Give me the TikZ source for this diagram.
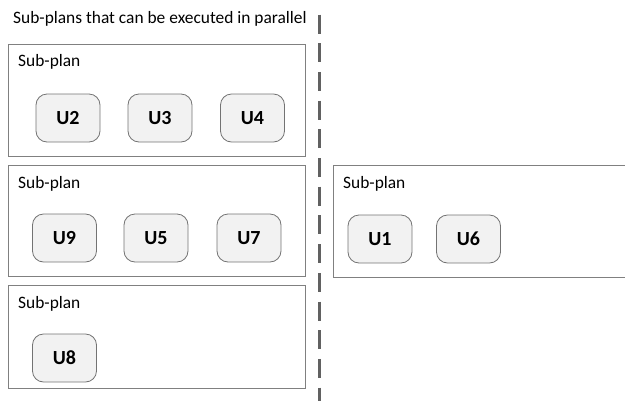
\documentclass[tikz,border=0pt]{standalone}
\usepackage{fontspec}
\setmainfont{Carlito}
\begin{document}
\begin{tikzpicture}[x=1pt,y=-1pt,
  plan/.style={draw=black!50, line width=1pt},
  unit/.style={draw=black!55, fill=black!5, rounded corners=11pt, minimum width=64pt, minimum height=48pt, font=\fontsize{20}{22}\selectfont\bfseries, inner sep=0pt, line width=0.8pt},
  lbl/.style={anchor=west, font=\fontsize{17.4}{19}\selectfont, inner sep=0pt},
  sep/.style={draw=black!62, line width=2.6pt, dash pattern=on 19pt off 9.7pt}]
\useasboundingbox (0,0) rectangle (625,400);
\node[lbl] (title) at (13,19) {Sub-plans that can be executed in parallel};
\coordinate (st) at (319.3,14.5);
\coordinate (sb) at (319.3,402);
\draw[sep] (st) -- (sb);
% box 1
\draw[plan] (8,44) rectangle (305,156);
\node[lbl] (l1) at (18,62) {Sub-plan};
\node[unit] (u2) at (68,118) {U2};
\node[unit] (u3) at (160,118) {U3};
\node[unit] (u4) at (252.5,118) {U4};
% box 2
\draw[plan] (8,165) rectangle (305,276);
\node[lbl] (l2) at (18,184) {Sub-plan};
\node[unit] (u9) at (64.5,238) {U9};
\node[unit] (u5) at (156,238) {U5};
\node[unit] (u7) at (249,238) {U7};
% box 3
\draw[plan] (8,285) rectangle (305,388);
\node[lbl] (l3) at (18,304) {Sub-plan};
\node[unit] (u8) at (64.5,358) {U8};
% box 4
\draw[plan] (333,165) -- (627,165) (627,277) -- (333,277) -- (333,165);
\node[lbl] (l4) at (343,184) {Sub-plan};
\node[unit] (u1) at (380,239) {U1};
\node[unit] (u6) at (468.5,239) {U6};
\end{tikzpicture}
\end{document}
